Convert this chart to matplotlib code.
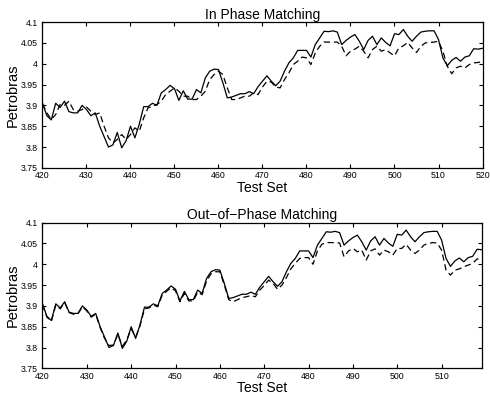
import matplotlib
matplotlib.use('Agg')
import matplotlib.pyplot as plt
from matplotlib import font_manager

plt.rcParams['font.family'] = ['Liberation Sans', 'DejaVu Sans']

names = {f.name for f in font_manager.fontManager.ttflist}
tick_font = 'Liberation Sans Narrow' if 'Liberation Sans Narrow' in names else 'Liberation Sans'

days = list(range(420, 521))

actual = [3.905, 3.875, 3.865, 3.905, 3.895, 3.910, 3.885, 3.882, 3.882, 3.900,
          3.890, 3.875, 3.882, 3.850, 3.825, 3.800, 3.805, 3.835, 3.798, 3.815,
          3.850, 3.822, 3.855, 3.897, 3.897, 3.905, 3.900, 3.930, 3.938, 3.948,
          3.940, 3.912, 3.935, 3.915, 3.915, 3.938, 3.930, 3.966, 3.982, 3.987,
          3.986, 3.954, 3.918, 3.920, 3.924, 3.928, 3.928, 3.933, 3.928, 3.945,
          3.958, 3.971, 3.958, 3.947, 3.958, 3.982, 4.002, 4.014, 4.032, 4.032,
          4.032, 4.016, 4.046, 4.062, 4.078, 4.077, 4.079, 4.076, 4.046, 4.056,
          4.064, 4.070, 4.054, 4.034, 4.056, 4.066, 4.046, 4.062, 4.051, 4.043,
          4.072, 4.070, 4.082, 4.066, 4.054, 4.066, 4.076, 4.078, 4.079, 4.079,
          4.058, 4.014, 3.995, 4.008, 4.015, 4.006, 4.016, 4.019, 4.036, 4.035,
          4.037]

in_phase = [3.904, 3.882, 3.866, 3.878, 3.902, 3.900, 3.910, 3.890, 3.886, 3.890,
            3.896, 3.886, 3.878, 3.882, 3.850, 3.822, 3.810, 3.818, 3.830, 3.818,
            3.830, 3.846, 3.838, 3.870, 3.894, 3.898, 3.902, 3.910, 3.926, 3.934,
            3.942, 3.934, 3.922, 3.922, 3.914, 3.914, 3.922, 3.934, 3.962, 3.974,
            3.982, 3.974, 3.942, 3.914, 3.914, 3.918, 3.922, 3.922, 3.930, 3.926,
            3.944, 3.958, 3.956, 3.944, 3.942, 3.962, 3.978, 3.998, 4.006, 4.016,
            4.014, 3.998, 4.026, 4.042, 4.052, 4.052, 4.052, 4.052, 4.042, 4.019,
            4.030, 4.035, 4.042, 4.030, 4.014, 4.034, 4.042, 4.030, 4.034, 4.026,
            4.019, 4.038, 4.043, 4.051, 4.038, 4.027, 4.042, 4.050, 4.051, 4.052,
            4.054, 4.030, 3.994, 3.976, 3.990, 3.994, 3.990, 3.998, 4.002, 4.003,
            4.005]

out_phase = [3.903, 3.873, 3.863, 3.902, 3.893, 3.908, 3.884, 3.880, 3.881, 3.898,
             3.888, 3.873, 3.880, 3.848, 3.822, 3.805, 3.806, 3.832, 3.803, 3.818,
             3.845, 3.825, 3.852, 3.893, 3.895, 3.902, 3.898, 3.926, 3.935, 3.944,
             3.936, 3.910, 3.930, 3.912, 3.912, 3.933, 3.927, 3.960, 3.977, 3.982,
             3.982, 3.950, 3.915, 3.910, 3.915, 3.920, 3.922, 3.925, 3.922, 3.938,
             3.949, 3.962, 3.954, 3.940, 3.950, 3.968, 3.989, 4.002, 4.014, 4.016,
             4.016, 4.000, 4.032, 4.048, 4.052, 4.052, 4.052, 4.051, 4.018, 4.032,
             4.038, 4.030, 4.034, 4.010, 4.032, 4.037, 4.022, 4.034, 4.030, 4.022,
             4.038, 4.038, 4.048, 4.034, 4.026, 4.034, 4.046, 4.050, 4.052, 4.051,
             4.034, 3.986, 3.974, 3.986, 3.989, 3.994, 3.998, 4.002, 4.013, 4.010]

y_ticks = [3.75, 3.8, 3.85, 3.9, 3.95, 4.0, 4.05, 4.1]
y_labels = ['3.75', '3.8', '3.85', '3.9', '3.95', '4', '4.05', '4.1']


def style(ax, xmax, title):
    ax.set_xlim(420, xmax)
    ax.set_ylim(3.75, 4.1)
    ax.set_xticks(range(420, int(xmax) + 1, 10))
    ax.set_yticks(y_ticks)
    ax.set_yticklabels(y_labels)
    ax.tick_params(direction='in', top=True, right=True, length=3, width=0.8)
    ax.tick_params(axis='x', pad=2.6)
    ax.tick_params(axis='y', pad=3.4)
    for lab in ax.get_xticklabels() + ax.get_yticklabels():
        lab.set_family([tick_font, 'DejaVu Sans'])
        lab.set_fontsize(6.3)
    for s in ax.spines.values():
        s.set_linewidth(0.9)
    ax.set_title(title, fontsize=10, pad=2.5)
    ax.set_xlabel('Test Set', fontsize=10, labelpad=0.3)
    ax.set_ylabel('Petrobras', fontsize=10.5, labelpad=1)


fig = plt.figure(figsize=(4.9, 3.94), dpi=100)
ax1 = fig.add_axes([0.0867, 0.574, 0.898, 0.37])
ax2 = fig.add_axes([0.0867, 0.065, 0.896, 0.37])

ax1.plot(days, actual, color='black', lw=0.9)
ax1.plot(days, in_phase, color='black', lw=0.9, linestyle=(0, (5, 3)))
style(ax1, 520, 'In Phase Matching')

ax2.plot(days[:100], actual[:100], color='black', lw=0.9)
ax2.plot(days[:100], out_phase, color='black', lw=0.9, linestyle=(0, (5, 3)))
style(ax2, 519, 'Out\u2212of\u2212Phase Matching')

fig.savefig('out.png', dpi=100)
